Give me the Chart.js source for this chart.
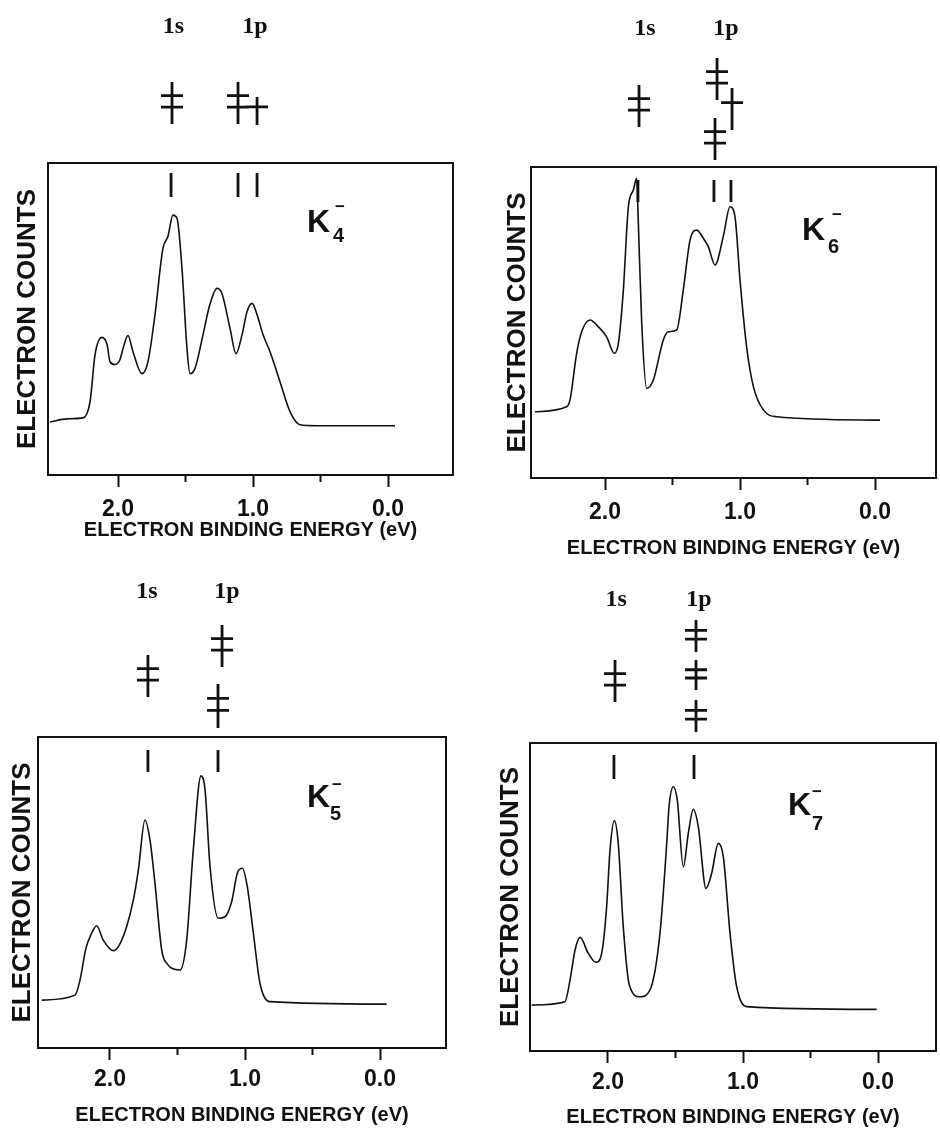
<!DOCTYPE html>
<html>
<head>
<meta charset="utf-8">
<script src="https://cdn.jsdelivr.net/npm/chart.js@4.4.1/dist/chart.umd.min.js"></script>
<style>
  body { margin: 0; background: #fff; }
  #page { position: relative; width: 940px; height: 1134px; background: #fff; }
  #page canvas { position: absolute; }
</style>
</head>
<body>
<div id="page"></div>
<script>
// ─── DATA ──────────────────────────────────────────────────────
// binding energy (eV) / electron counts (arb. units, 0 = frame bottom, 100 = frame top)

const K4_ENERGY = [2.504, 2.378, 2.259, 2.207, 2.170, 2.119, 2.081, 2.059, 2.022, 1.985, 1.963, 1.926, 1.889, 1.822, 1.778, 1.726, 1.667, 1.630, 1.593, 1.563, 1.526, 1.489, 1.467, 1.430, 1.370, 1.319, 1.267, 1.230, 1.170, 1.126, 1.081, 1.044, 1.007, 0.970, 0.926, 0.874, 0.800, 0.726, 0.652, 0.526, -0.052];
const K4_COUNTS = [17.0, 18.0, 18.3, 23.5, 38.6, 44.1, 41.8, 36.3, 35.4, 37.0, 40.5, 44.7, 39.5, 32.5, 36.3, 51.4, 72.7, 76.5, 83.3, 82.3, 66.2, 40.5, 32.5, 34.1, 45.0, 54.7, 59.8, 58.2, 46.9, 38.9, 45.0, 52.4, 55.0, 51.4, 45.0, 39.5, 29.9, 20.3, 16.1, 15.8, 15.8];

const K6_ENERGY = [2.519, 2.284, 2.259, 2.210, 2.173, 2.111, 2.049, 1.988, 1.931, 1.901, 1.864, 1.827, 1.790, 1.765, 1.753, 1.728, 1.691, 1.642, 1.568, 1.531, 1.469, 1.420, 1.370, 1.321, 1.272, 1.235, 1.185, 1.124, 1.074, 1.037, 1.000, 0.951, 0.901, 0.827, 0.728, -0.037];
const K6_COUNTS = [21.3, 22.9, 25.1, 40.1, 47.0, 50.8, 48.6, 45.4, 40.1, 43.3, 60.5, 87.2, 92.6, 96.4, 82.0, 49.8, 28.8, 31.5, 44.4, 47.0, 47.6, 60.5, 76.5, 79.7, 77.1, 74.4, 68.5, 77.6, 87.2, 84.0, 63.7, 42.2, 29.4, 21.9, 19.7, 18.6];

const K5_ENERGY = [2.506, 2.259, 2.222, 2.178, 2.136, 2.099, 2.050, 1.975, 1.938, 1.877, 1.827, 1.790, 1.741, 1.704, 1.667, 1.617, 1.580, 1.481, 1.432, 1.383, 1.326, 1.296, 1.259, 1.198, 1.148, 1.099, 1.057, 1.020, 0.983, 0.938, 0.889, 0.815, -0.049];
const K5_COUNTS = [15.4, 17.0, 21.9, 32.1, 36.9, 39.3, 34.7, 31.3, 32.6, 39.0, 47.6, 57.2, 73.3, 66.9, 53.0, 31.5, 27.2, 25.1, 34.7, 63.7, 87.5, 83.0, 58.3, 41.7, 42.2, 47.0, 56.2, 57.8, 51.9, 36.9, 20.8, 14.9, 14.1];

const K7_ENERGY = [2.565, 2.319, 2.281, 2.244, 2.207, 2.146, 2.089, 2.047, 2.010, 1.985, 1.953, 1.924, 1.887, 1.842, 1.763, 1.689, 1.615, 1.565, 1.548, 1.516, 1.487, 1.442, 1.405, 1.368, 1.331, 1.274, 1.232, 1.183, 1.146, 1.096, 1.047, 0.973, 0.010];
const K7_COUNTS = [14.9, 16.0, 23.1, 32.8, 36.9, 31.7, 28.8, 31.7, 46.9, 65.3, 74.8, 67.4, 40.4, 21.4, 17.6, 19.8, 38.2, 67.4, 79.3, 85.8, 81.5, 59.8, 70.7, 78.5, 72.8, 52.8, 57.7, 67.4, 63.1, 38.2, 20.9, 14.4, 13.5];

// shell model levels above each spectrum (energy, number of crossbars)
const K4_LEVEL_E = [1.600, 1.111, 0.970];
const K4_LEVEL_BARS = [2, 2, 1];
const K6_LEVEL_E = [1.748, 1.170, 1.059, 1.185];
const K6_LEVEL_BARS = [2, 2, 1, 2];
const K5_LEVEL_E = [1.719, 1.170, 1.200];
const K5_LEVEL_BARS = [2, 2, 2];
const K7_LEVEL_E = [1.948, 1.348, 1.348, 1.348];
const K7_LEVEL_BARS = [2, 2, 2, 2];

// assigned peak markers inside the frame
const K4_PEAK_E = [1.607, 1.111, 0.970];
const K6_PEAK_E = [1.756, 1.193, 1.067];
const K5_PEAK_E = [1.719, 1.200];
const K7_PEAK_E = [1.956, 1.363];

// shell labels and where they sit on the energy axis
const SHELL_NAMES = ['1s', '1p'];
const K4_SHELL_E = [1.590, 0.985];
const K6_SHELL_E = [1.704, 1.104];
const K5_SHELL_E = [1.726, 1.133];
const K7_SHELL_E = [1.940, 1.326];

const TICK_VALUES = [2.0, 1.0, 0.0];
const MINOR_TICKS = [1.5, 0.5];
const X_TITLE = 'ELECTRON BINDING ENERGY (eV)';
const Y_TITLE = 'ELECTRON COUNTS';

// ─── LAYOUT ────────────────────────────────────────────────────

const INK = '#111';
const TICK_FONT = 23;
const TITLE_FONT = 20;
const Y_FONT = 26;
const TICK_LEN = 12;

const PANELS = [
  {
    canvas: [0, 0, 470, 562], box: [48, 163, 453, 475], tick2: 118, tick0: 388,
    tickLabelY: 510, titleY: 530, yTitleX: 28,
    energy: K4_ENERGY, counts: K4_COUNTS,
    levelE: K4_LEVEL_E, levelBars: K4_LEVEL_BARS, levelDy: [-60, -60, -52], levelH: [21, 21, 14],
    peakE: K4_PEAK_E, peakSpan: [10, 34],
    shellE: K4_SHELL_E, shellDy: -136,
    ion: { n: '4', k: [259, 69], sub: [285, 79], minus: [287, 44] }
  },
  {
    canvas: [470, 0, 470, 562], box: [531, 167, 936, 478], tick2: 605, tick0: 875,
    tickLabelY: 513, titleY: 548, yTitleX: 518,
    energy: K6_ENERGY, counts: K6_COUNTS,
    levelE: K6_LEVEL_E, levelBars: K6_LEVEL_BARS, levelDy: [-61, -88, -58, -28], levelH: [21, 21, 21, 21],
    peakE: K6_PEAK_E, peakSpan: [13, 35],
    shellE: K6_SHELL_E, shellDy: -138,
    ion: { n: '6', k: [271, 73], sub: [297, 86], minus: [301, 48] }
  },
  {
    canvas: [0, 562, 470, 572], box: [38, 737, 446, 1048], tick2: 110, tick0: 380,
    tickLabelY: 1080, titleY: 1115, yTitleX: 23,
    energy: K5_ENERGY, counts: K5_COUNTS,
    levelE: K5_LEVEL_E, levelBars: K5_LEVEL_BARS, levelDy: [-61, -91, -31], levelH: [21, 21, 22],
    peakE: K5_PEAK_E, peakSpan: [13, 35],
    shellE: K5_SHELL_E, shellDy: -145,
    ion: { n: '5', k: [269, 70], sub: [292, 83], minus: [294, 48] }
  },
  {
    canvas: [470, 562, 470, 572], box: [530, 743, 936, 1051], tick2: 608, tick0: 878,
    tickLabelY: 1083, titleY: 1117, yTitleX: 511,
    energy: K7_ENERGY, counts: K7_COUNTS,
    levelE: K7_LEVEL_E, levelBars: K7_LEVEL_BARS, levelDy: [-62, -107, -68, -27], levelH: [21, 16, 15, 16],
    peakE: K7_PEAK_E, peakSpan: [12, 36],
    shellE: K7_SHELL_E, shellDy: -143,
    ion: { n: '7', k: [258, 72], sub: [282, 87], minus: [282, 49] }
  }
];

// ─── DECORATION PLUGIN (frame, minor ticks, level scheme, labels) ──

const spectrumDecor = {
  id: 'spectrumDecor',
  afterDraw(chart, args, p) {
    const { ctx, chartArea: a, scales: { x } } = chart;
    ctx.save();
    ctx.strokeStyle = INK;
    ctx.fillStyle = INK;
    ctx.lineCap = 'butt';

    // frame
    ctx.lineWidth = 2;
    ctx.strokeRect(a.left, a.top, a.right - a.left, a.bottom - a.top);

    // minor ticks
    ctx.beginPath();
    MINOR_TICKS.forEach(v => {
      const px = x.getPixelForValue(v);
      ctx.moveTo(px, a.bottom);
      ctx.lineTo(px, a.bottom + 7);
    });
    ctx.stroke();

    // peak markers inside the frame
    ctx.lineWidth = 2.8;
    ctx.beginPath();
    p.peakE.forEach(e => {
      const px = x.getPixelForValue(e);
      ctx.moveTo(px, a.top + p.peakSpan[0]);
      ctx.lineTo(px, a.top + p.peakSpan[1]);
    });
    ctx.stroke();

    // level symbols
    ctx.beginPath();
    p.levelE.forEach((e, i) => {
      const px = x.getPixelForValue(e);
      const cy = a.top + p.levelDy[i];
      const h = p.levelH[i];
      ctx.moveTo(px, cy - h);
      ctx.lineTo(px, cy + h);
      const bars = p.levelBars[i] === 2 ? [-0.35 * h, 0.2 * h] : [-0.3 * h];
      bars.forEach(dy => {
        ctx.moveTo(px - 11, cy + dy);
        ctx.lineTo(px + 11, cy + dy);
      });
    });
    ctx.stroke();

    // 1s / 1p
    ctx.font = 'bold 24px "Liberation Serif"';
    ctx.textAlign = 'center';
    ctx.textBaseline = 'middle';
    SHELL_NAMES.forEach((s, i) => {
      ctx.fillText(s, x.getPixelForValue(p.shellE[i]), a.top + p.shellDy);
    });

    // cluster label K_n^-
    ctx.textAlign = 'left';
    ctx.textBaseline = 'alphabetic';
    ctx.font = 'bold 32px "Liberation Sans"';
    ctx.fillText('K', a.left + p.ion.k[0], a.top + p.ion.k[1]);
    ctx.font = 'bold 20px "Liberation Sans"';
    ctx.fillText(p.ion.n, a.left + p.ion.sub[0], a.top + p.ion.sub[1]);
    ctx.font = 'bold 17px "Liberation Sans"';
    ctx.fillText('\u2212', a.left + p.ion.minus[0], a.top + p.ion.minus[1] + 5);

    ctx.restore();
  }
};

// ─── BUILD ─────────────────────────────────────────────────────

function renderPanel(page, p) {
  const [cx, cy, cw, ch] = p.canvas;
  const [bl, bt, br, bb] = p.box;
  const canvas = document.createElement('canvas');
  canvas.width = cw;
  canvas.height = ch;
  canvas.style.left = cx + 'px';
  canvas.style.top = cy + 'px';
  page.appendChild(canvas);

  const pxPerEv = (p.tick0 - p.tick2) / 2;
  const xMax = 2 + (p.tick2 - bl) / pxPerEv;
  const xMin = -(br - p.tick0) / pxPerEv;

  new Chart(canvas, {
    type: 'line',
    data: {
      datasets: [{
        data: p.energy.map((e, i) => ({ x: e, y: p.counts[i] })),
        borderColor: INK,
        borderWidth: 1.6,
        pointRadius: 0,
        cubicInterpolationMode: 'monotone',
        fill: false
      }]
    },
    options: {
      responsive: false,
      animation: false,
      events: [],
      layout: { padding: { left: 0, top: bt - cy, right: cx + cw - br, bottom: 0 } },
      plugins: {
        legend: { display: false },
        tooltip: { enabled: false },
        spectrumDecor: p
      },
      scales: {
        x: {
          type: 'linear',
          reverse: true,
          min: xMin,
          max: xMax,
          afterBuildTicks: s => { s.ticks = TICK_VALUES.map(v => ({ value: v })); },
          afterFit: s => { s.height = ch - (bb - cy); },
          border: { display: false },
          grid: {
            drawOnChartArea: false,
            drawTicks: true,
            tickLength: TICK_LEN,
            tickWidth: 2,
            tickColor: INK
          },
          ticks: {
            autoSkip: false,
            maxRotation: 0,
            color: INK,
            padding: p.tickLabelY - bb - TICK_LEN - TICK_FONT * 1.2 / 2,
            font: { family: '"Liberation Sans"', size: TICK_FONT, weight: 'bold' },
            callback: v => Number(v).toFixed(1)
          },
          title: {
            display: true,
            text: X_TITLE,
            color: INK,
            font: { family: '"Liberation Sans"', size: TITLE_FONT, weight: 'bold' },
            padding: { top: 0, bottom: (cy + ch) - p.titleY - TITLE_FONT * 1.2 / 2 }
          }
        },
        y: {
          min: 0,
          max: 100,
          afterFit: s => { s.width = bl - cx; },
          border: { display: false },
          grid: { display: false },
          ticks: { display: false },
          title: {
            display: true,
            text: Y_TITLE,
            color: INK,
            font: { family: '"Liberation Sans"', size: Y_FONT, weight: 'bold' },
            padding: { top: p.yTitleX - cx - Y_FONT * 1.2 / 2, bottom: 0 }
          }
        }
      }
    },
    plugins: [spectrumDecor]
  });
}

const page = document.getElementById('page');
PANELS.forEach(p => renderPanel(page, p));
</script>
</body>
</html>
